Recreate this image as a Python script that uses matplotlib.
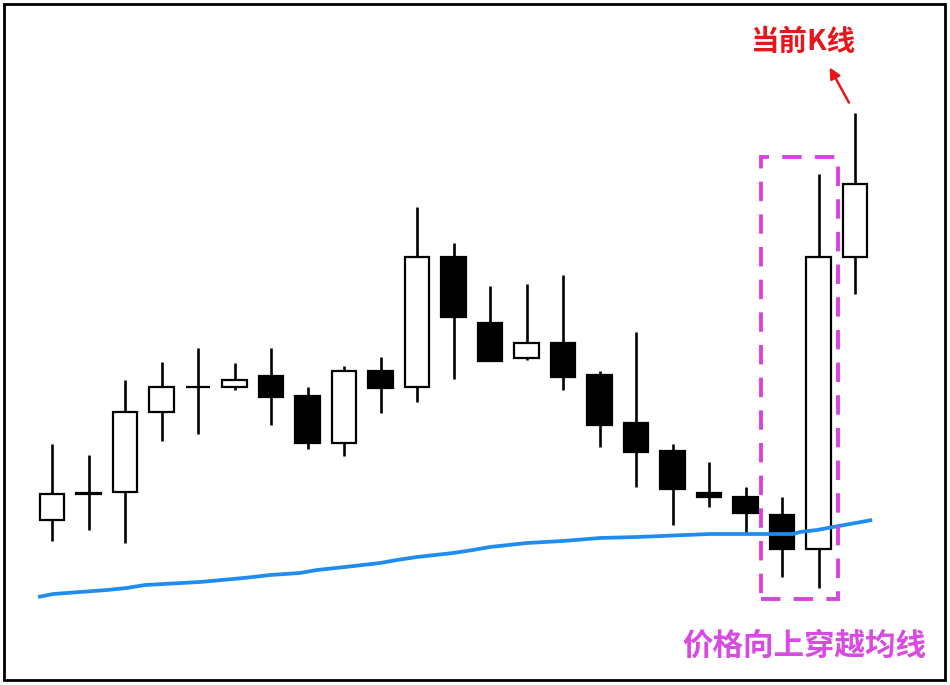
import numpy as np
import matplotlib
matplotlib.use('Agg')
import matplotlib.pyplot as plt
from matplotlib.patches import Rectangle

plt.rcParams['font.family'] = ['Noto Sans CJK SC', 'DejaVu Sans']

# candle data (price units)
opens  = [165, 192, 193, 273, 298, 298, 309, 289, 242, 314, 298, 428, 362, 327, 342, 310, 262, 234, 192, 188, 170, 136, 428]
closes = [191, 191, 273, 298, 298, 305, 288, 242, 314, 297, 428, 368, 324, 342, 308, 260, 233, 196, 188, 172, 136, 428, 501]
highs  = [241, 230, 305, 323, 337, 322, 337, 298, 319, 328, 478, 442, 399, 401, 410, 314, 353, 241, 223, 198, 188, 511, 572]
lows   = [144, 155, 142, 244, 251, 295, 260, 236, 229, 272, 283, 306, 324, 325, 295, 238, 198, 160, 178, 152, 108, 97, 391]

# moving average (position in candle index, price)
ma_x = [-0.38, 0.03, 1.51, 2.05, 2.55, 4.05, 4.96, 5.51, 5.97, 6.79, 7.26, 8.03, 8.99, 9.45,
        10.0, 10.99, 11.53, 12.0, 13.01, 14.0, 15.01, 16.03, 18.03, 20.3, 20.49, 20.96,
        21.4, 21.86, 22.47]
ma_y = [88, 91, 95, 97, 100, 103, 106, 108, 110, 112, 115, 118, 122, 125,
        128, 132, 135, 138, 142, 144, 147, 148, 151, 151, 153, 155,
        158, 161, 165]

box_candles = [20, 21]
current_idx = 22

x = np.arange(len(opens))
o = np.array(opens)
c = np.array(closes)

fig = plt.figure(figsize=(9.5, 6.85), dpi=100)
ax = fig.add_axes([0, 0, 1, 1])
ax.set_xlim(-52 / 36.5, (950 - 52) / 36.5)
ax.set_ylim(0, 685)
ax.axis('off')

# wicks then bodies
ax.vlines(x, lows, highs, color='black', lw=1.9, zorder=2)
up = c >= o
body = np.maximum(np.abs(c - o), 0.5)
ax.bar(x, body, bottom=np.minimum(o, c), width=0.66,
       color=np.where(up & (c != o), 'white', 'black'), edgecolor='black', lw=1.6, zorder=3)

# moving average drawn over the candles
ax.plot(ma_x, ma_y, color='#1E8CF0', lw=2.7, zorder=3.5, solid_capstyle='butt')

# dashed box around the crossing candles
bx0 = box_candles[0] - 0.58
bx1 = box_candles[-1] + 0.53
by0 = min(lows[i] for i in box_candles) - 11
by1 = max(highs[i] for i in box_candles) + 17
ax.add_patch(Rectangle((bx0, by0), bx1 - bx0, by1 - by0, fill=False,
                       edgecolor='#D843E0', lw=2.8, linestyle=(0, (5.0, 3.4)), zorder=4))

# annotations
ax.annotate('', xy=(current_idx - 0.73, highs[current_idx] + 48),
            xytext=(current_idx - 0.13, highs[current_idx] + 8),
            arrowprops=dict(arrowstyle='-|>', color='#E8161C', lw=1.8, mutation_scale=16))
ax.text(20.6, 643, '当前K线', color='#E8161C', fontsize=20.5, fontweight='bold',
        ha='center', va='center')
ax.text(20.6, 39, '价格向上穿越均线', color='#D94AE2', fontsize=22, fontweight='bold',
        ha='center', va='center')

# outer frame
fig.patches.append(Rectangle((4 / 950, 5 / 685), 941 / 950, 676 / 685, fill=False,
                             edgecolor='black', lw=2, transform=fig.transFigure, figure=fig))

fig.savefig('out.png', dpi=100)
